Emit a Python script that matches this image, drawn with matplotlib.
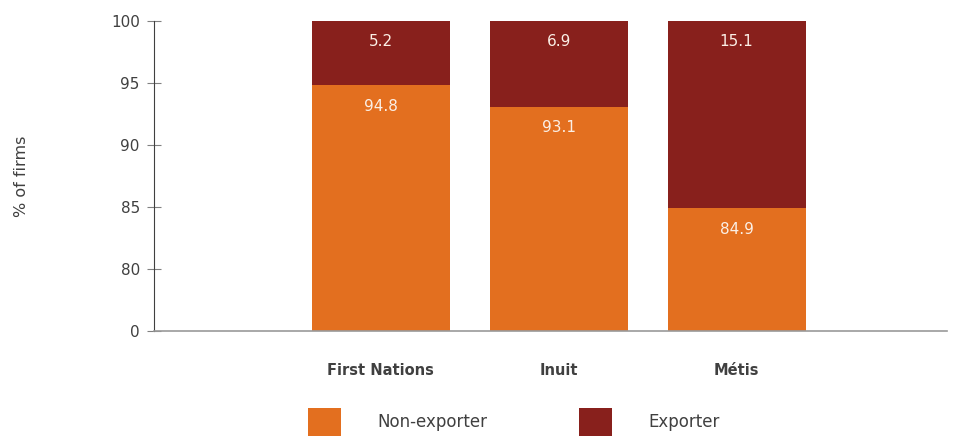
import matplotlib.pyplot as plt
import numpy as np

plt.rcParams['font.family'] = ['DejaVu Sans']

groups = ['First Nations', 'Inuit', 'Métis']
non_exporter = [94.8, 93.1, 84.9]
exporter = [5.2, 6.9, 15.1]
yticks = [0, 80, 85, 90, 95, 100]

orange = '#E36F1F'
darkred = '#88201C'
grey = '#404040'


# squeeze 0-80 into one tick step so the 80-100 range is readable
def fwd(v):
    v = np.asarray(v, dtype=float)
    return np.where(v < 80, 75 + v * 5 / 80, v)


def inv(v):
    v = np.asarray(v, dtype=float)
    return np.where(v < 80, (v - 75) * 80 / 5, v)


fig = plt.figure(figsize=(9.61, 4.36), dpi=100)
ax = fig.add_axes([0.160, 0.2408, 0.825, 0.711])
ax.set_yscale('function', functions=(fwd, inv))

x = np.arange(len(groups))
b1 = ax.bar(x, non_exporter, width=0.775, color=orange, label='Non-exporter')
b2 = ax.bar(x, exporter, width=0.775, bottom=non_exporter, color=darkred, label='Exporter')

# value labels just under the top of each segment
for xi, ne, ex in zip(x, non_exporter, exporter):
    ax.annotate(f'{ne:.1f}', (xi, ne), xytext=(0, -15), textcoords='offset points',
                ha='center', va='center', color='#FBEFE6', fontsize=11)
    ax.annotate(f'{ex:.1f}', (xi, ne + ex), xytext=(0, -15), textcoords='offset points',
                ha='center', va='center', color='#FBEFE6', fontsize=11)

ax.set_ylim(0, 100)
ax.set_xlim(-1.275, 3.18)
ax.set_yticks(yticks)
ax.set_yticklabels([str(t) for t in yticks])
ax.set_xticks(x)
ax.set_xticklabels(groups, fontweight='bold')

for s in ['top', 'right']:
    ax.spines[s].set_visible(False)
ax.spines['left'].set_color(grey)
ax.spines['bottom'].set_color('#9A9A9A')
ax.spines['bottom'].set_linewidth(1.2)

ax.tick_params(axis='y', direction='inout', length=10, color='#808080',
               labelcolor=grey, labelsize=11, pad=5)
ax.tick_params(axis='x', length=0, labelcolor=grey, labelsize=10.5, pad=23)

ax.set_ylabel('% of firms', color=grey, fontsize=11.5)
ax.yaxis.set_label_coords(-0.157, 0.5)

fig.legend(handles=[b1, b2], loc='center left', bbox_to_anchor=(0.3205, 0.032),
           ncol=2, frameon=False, fontsize=12, handlelength=1.98, handleheight=2.14,
           handletextpad=2.2, columnspacing=5.45, borderpad=0, borderaxespad=0,
           labelcolor=grey)

fig.savefig('out.png', dpi=100)
